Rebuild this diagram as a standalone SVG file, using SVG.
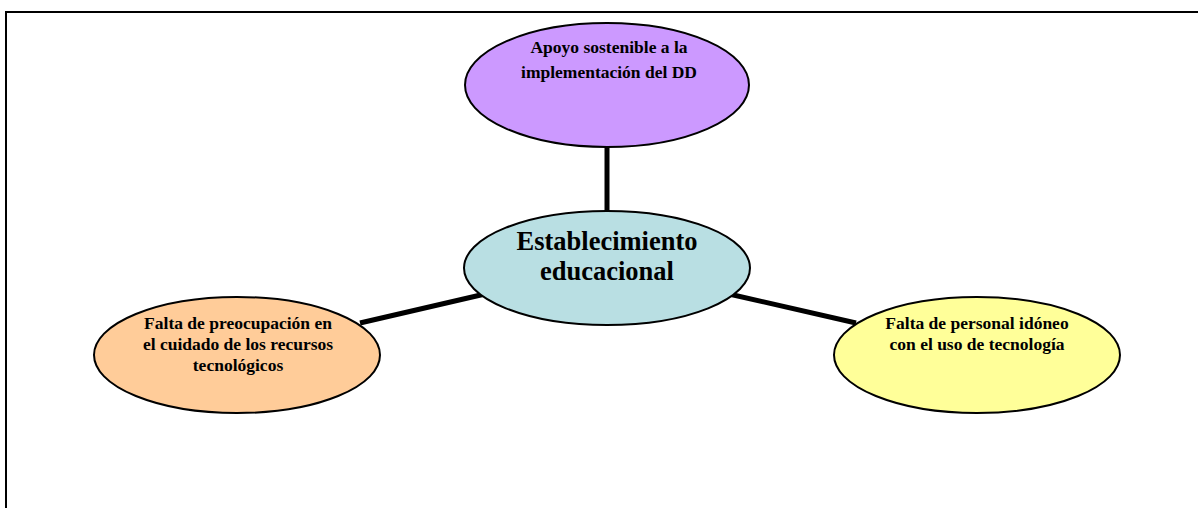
<svg xmlns="http://www.w3.org/2000/svg" width="1198" height="508" viewBox="0 0 1198 508">
<style>
.n{stroke:#000;stroke-width:2}
.t{font-family:"Liberation Serif",serif;font-weight:bold;font-size:17.5px;text-anchor:middle;fill:#000}
.big{font-size:26.5px}
.c{stroke:#000;stroke-width:5;fill:none}
</style>
<rect width="1198" height="508" fill="#fff"/>
<path d="M6 508 V12 H1198" fill="none" stroke="#000" stroke-width="2"/>
<g id="connectors">
<line class="c" x1="607" y1="146" x2="607" y2="212"/>
<line class="c" x1="360" y1="323" x2="485" y2="294"/>
<line class="c" x1="729" y1="294" x2="856" y2="323"/>
</g>
<g id="top">
<ellipse class="n" cx="607" cy="85" rx="142" ry="62" fill="#cc99ff"/>
<text class="t" x="609" y="53">Apoyo sostenible a la</text>
<text class="t" x="609" y="78">implementación del DD</text>
</g>
<g id="center">
<ellipse class="n" cx="607" cy="268" rx="143" ry="57" fill="#b9dfe3"/>
<text class="t big" x="607" y="250">Establecimiento</text>
<text class="t big" x="607" y="280">educacional</text>
</g>
<g id="left">
<ellipse class="n" cx="237" cy="355" rx="143" ry="58" fill="#ffcc99"/>
<text class="t" x="238" y="329">Falta de preocupación en</text>
<text class="t" x="238" y="350">el cuidado de los recursos</text>
<text class="t" x="238" y="371">tecnológicos</text>
</g>
<g id="right">
<ellipse class="n" cx="977" cy="355" rx="143" ry="58" fill="#ffff99"/>
<text class="t" x="977" y="329">Falta de personal idóneo</text>
<text class="t" x="977" y="350">con el uso de tecnología</text>
</g>
</svg>
